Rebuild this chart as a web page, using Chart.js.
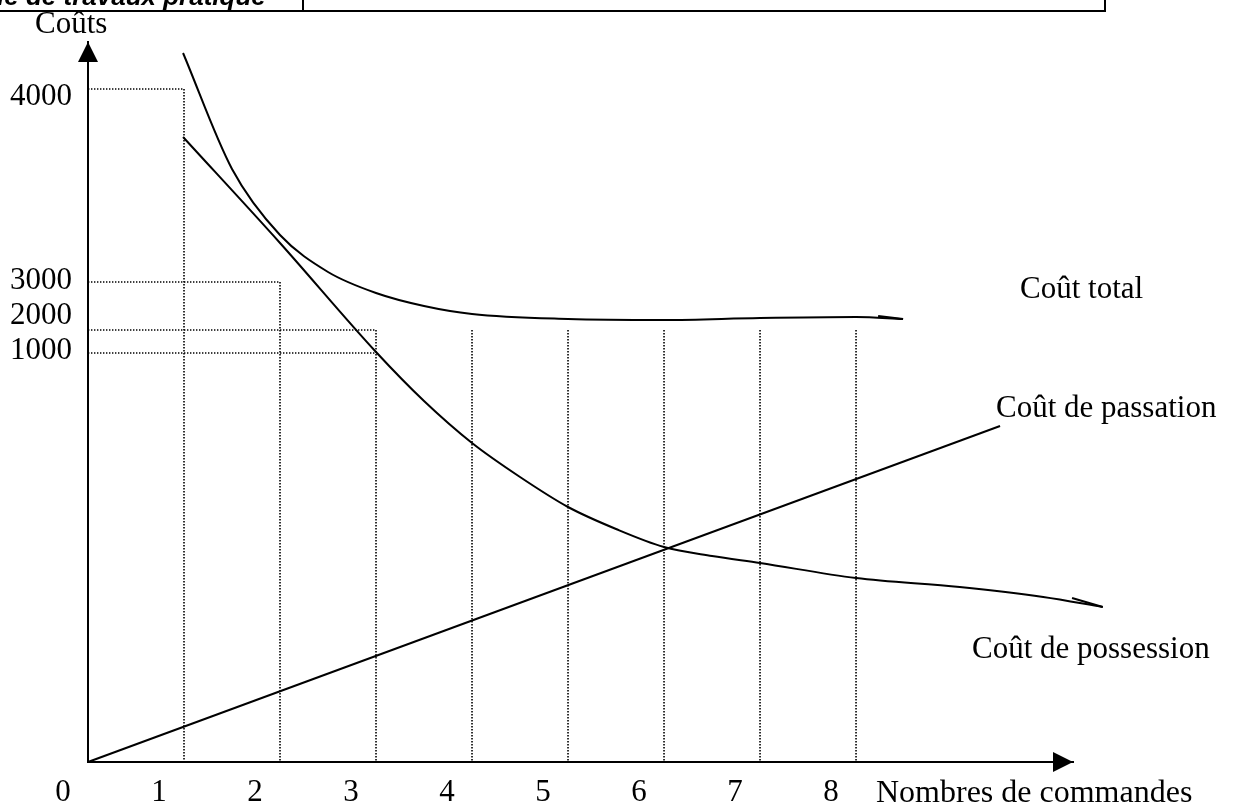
<!DOCTYPE html>
<html>
<head>
<meta charset="utf-8">
<script src="https://cdn.jsdelivr.net/npm/chart.js@4.4.1/dist/chart.umd.min.js"></script>
<style>
  html, body { margin: 0; padding: 0; background: #fff; }
  #wrap { width: 1233px; height: 805px; position: relative; }
</style>
</head>
<body>
<div id="wrap"><canvas id="chart"></canvas></div>
<script>
// axe des x : nombre de commandes
const xTickLabels = ['0', '1', '2', '3', '4', '5', '6', '7', '8'];
// axe des coûts (schéma, graduation non linéaire)
const yTickLabels = ['4000', '3000', '2000', '1000'];
const yTickLevels = [665, 481, 446, 411];

// pointillés de lecture
const guideLevels = [673, 480, 432, 409];
const guideReach = [1, 2, 3, 3];
const dropX = [1, 2, 3, 4, 5, 6, 7, 8];
const dropTop = [673, 480, 432, 432, 432, 432, 432, 432];

const totalX = [0.99, 1.5, 2.0, 2.5, 3.0, 3.5, 4.0, 5.0, 6.0, 7.0, 8.0, 8.49];
const totalY = [709, 593, 527, 490, 469, 456, 448, 443, 442, 444, 445, 443];

const possessionX = [0.99, 2.0, 3.0, 3.5, 4.0, 4.5, 5.0, 5.5, 6.0, 6.5, 7.0, 8.0, 9.08, 9.95, 10.57];
const possessionY = [625, 519, 410, 361, 319, 285, 255, 233, 215, 206, 199, 184, 175, 165, 155];

const passationX = [0, 9.5];
const passationY = [0, 336];

// petits crochets en bout de tracé
const totalHookX = [8.23, 8.49];
const totalHookY = [446, 443];
const possessionHookX = [10.25, 10.57];
const possessionHookY = [164, 155];

const pts = (xs, ys) => xs.map((x, i) => ({ x: x, y: ys[i] }));

const solid = (data, smooth) => ({
    data: data,
    borderColor: '#000',
    borderWidth: 2,
    pointRadius: 0,
    fill: false,
    clip: false,
    tension: 0,
    cubicInterpolationMode: smooth ? 'monotone' : 'default'
});

const dotted = (data) => ({
    data: data,
    borderColor: '#000',
    borderWidth: 1.6,
    borderDash: [1.4, 1.6],
    pointRadius: 0,
    fill: false,
    clip: false,
    tension: 0
});

const datasets = [];
guideLevels.forEach((lv, i) => {
    datasets.push(dotted([{ x: 0, y: lv }, { x: guideReach[i], y: lv }]));
});
dropX.forEach((x, i) => {
    datasets.push(dotted([{ x: x, y: dropTop[i] }, { x: x, y: 0 }]));
});
datasets.push(solid(pts(totalX, totalY), true));
datasets.push(solid(pts(possessionX, possessionY), true));
datasets.push(solid(pts(passationX, passationY), false));
datasets.push(solid(pts(totalHookX, totalHookY), false));
datasets.push(solid(pts(possessionHookX, possessionHookY), false));

const serif = 'Liberation Serif';

// flèches des axes, libellés et bandeau du haut
const decor = {
    id: 'decor',
    afterDraw(chart) {
        const { ctx, chartArea: a } = chart;
        ctx.save();
        ctx.fillStyle = '#000';
        ctx.strokeStyle = '#000';

        ctx.beginPath();
        ctx.moveTo(a.left, a.top);
        ctx.lineTo(a.left - 10, a.top + 20);
        ctx.lineTo(a.left + 10, a.top + 20);
        ctx.closePath();
        ctx.fill();

        ctx.beginPath();
        ctx.moveTo(a.right, a.bottom);
        ctx.lineTo(a.right - 20, a.bottom - 10);
        ctx.lineTo(a.right - 20, a.bottom + 10);
        ctx.closePath();
        ctx.fill();

        ctx.font = '31px "' + serif + '"';
        ctx.textAlign = 'left';
        ctx.textBaseline = 'alphabetic';
        ctx.fillText('Coûts', 35, 33);
        ctx.font = '32px "' + serif + '"';
        ctx.fillText('Nombres de commandes', 876, 802);
        ctx.font = '31px "' + serif + '"';
        ctx.fillText('Coût total', 1020, 298);
        ctx.fillText('Coût de passation', 996, 417);
        ctx.fillText('Coût de possession', 972, 658);

        // bandeau coupé en haut de la page
        ctx.lineWidth = 2;
        ctx.beginPath();
        ctx.moveTo(0, 11); ctx.lineTo(1105, 11);
        ctx.moveTo(303, 0); ctx.lineTo(303, 11);
        ctx.moveTo(1105, 0); ctx.lineTo(1105, 12);
        ctx.stroke();
        ctx.font = 'bold italic 26px "Liberation Sans"';
        ctx.fillText('ie de travaux pratique', -3, 5);
        ctx.restore();
    }
};

new Chart(document.getElementById('chart'), {
    type: 'line',
    data: { datasets: datasets },
    options: {
        responsive: true,
        maintainAspectRatio: false,
        animation: false,
        events: [],
        layout: { padding: { top: 42, right: 160, left: 0, bottom: 0 } },
        plugins: {
            legend: { display: false },
            tooltip: { enabled: false }
        },
        scales: {
            x: {
                type: 'linear',
                min: 0,
                max: 10.26,
                grid: { display: false, drawTicks: false },
                border: { display: true, color: '#000', width: 2 },
                ticks: {
                    autoSkip: false,
                    maxRotation: 0,
                    minRotation: 0,
                    padding: 12,
                    labelOffset: -25,
                    color: '#000',
                    font: { family: serif, size: 31 },
                    callback: (v, i) => xTickLabels[i]
                },
                afterBuildTicks: (s) => { s.ticks = xTickLabels.map((_, i) => ({ value: i })); },
                afterFit: (s) => { s.height = 43; }
            },
            y: {
                type: 'linear',
                min: 0,
                max: 720,
                grid: { display: false, drawTicks: false },
                border: { display: true, color: '#000', width: 2 },
                ticks: {
                    autoSkip: false,
                    padding: 16,
                    color: '#000',
                    font: { family: serif, size: 31 },
                    callback: (v, i) => yTickLabels[i]
                },
                afterBuildTicks: (s) => { s.ticks = yTickLevels.map((v) => ({ value: v })); },
                afterFit: (s) => { s.width = 88; }
            }
        }
    },
    plugins: [decor]
});
</script>
</body>
</html>
